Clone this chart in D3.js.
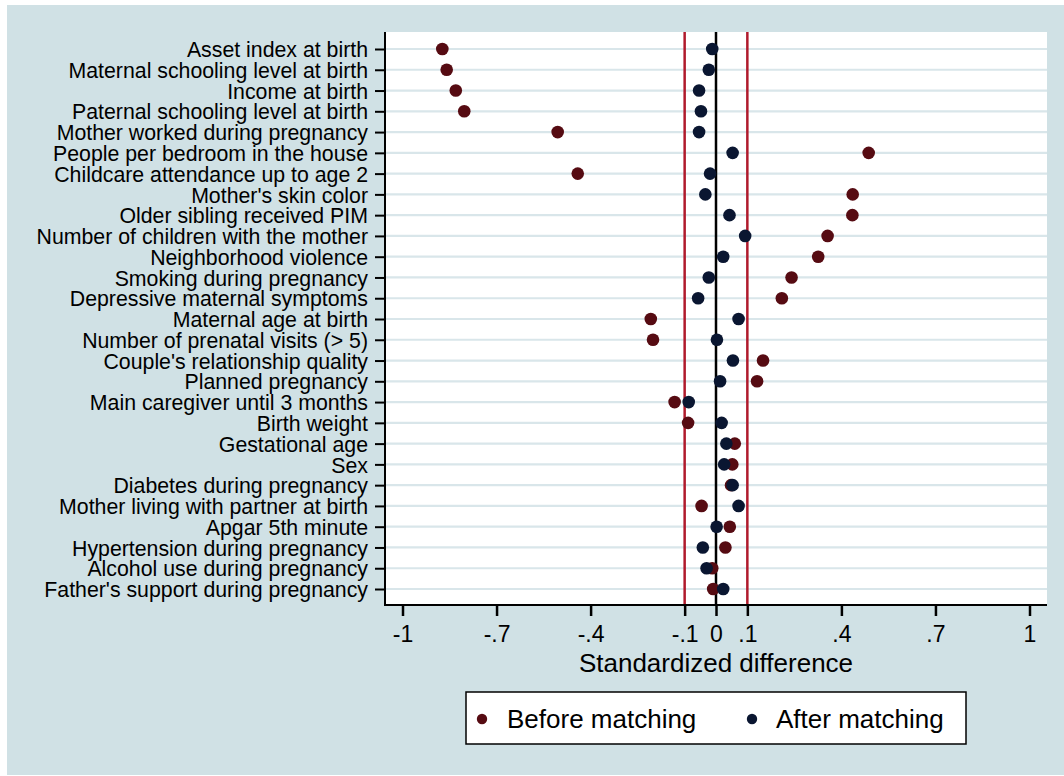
<!DOCTYPE html>
<html>
<head>
<meta charset="utf-8">
<script src="https://cdnjs.cloudflare.com/ajax/libs/d3/7.8.5/d3.min.js"></script>
<style>
  body { margin: 0; background: #fff; }
  svg text { font-family: "Liberation Sans", Arial, sans-serif; fill: #000; }
</style>
</head>
<body>
<div id="chart"></div>
<script>
var variables = [
  "Asset index at birth",
  "Maternal schooling level at birth",
  "Income at birth",
  "Paternal schooling level at birth",
  "Mother worked during pregnancy",
  "People per bedroom in the house",
  "Childcare attendance up to age 2",
  "Mother's skin color",
  "Older sibling received PIM",
  "Number of children with the mother",
  "Neighborhood violence",
  "Smoking during pregnancy",
  "Depressive maternal symptoms",
  "Maternal age at birth",
  "Number of prenatal visits (> 5)",
  "Couple's relationship quality",
  "Planned pregnancy",
  "Main caregiver until 3 months",
  "Birth weight",
  "Gestational age",
  "Sex",
  "Diabetes during pregnancy",
  "Mother living with partner at birth",
  "Apgar 5th minute",
  "Hypertension during pregnancy",
  "Alcohol use during pregnancy",
  "Father's support during pregnancy"
];

var beforeMatching = [-0.873, -0.859, -0.830, -0.803, -0.505, 0.487, -0.441, 0.436, 0.435, 0.356,
  0.326, 0.241, 0.210, -0.208, -0.201, 0.150, 0.131, -0.132, -0.089, 0.060,
  0.052, 0.048, -0.046, 0.044, 0.030, -0.012, -0.009];

var afterMatching = [-0.012, -0.023, -0.054, -0.048, -0.054, 0.053, -0.019, -0.034, 0.043, 0.093,
  0.023, -0.023, -0.057, 0.072, 0.003, 0.054, 0.013, -0.087, 0.018, 0.033,
  0.026, 0.053, 0.072, 0.002, -0.042, -0.030, 0.023];

var xTicks = [-1, -0.7, -0.4, -0.1, 0, 0.1, 0.4, 0.7, 1];
var thresholds = [-0.1, 0.1];

var W = 1064, H = 776;
var colBefore = "#560b12", colAfter = "#0a1631";

var svg = d3.select("#chart").append("svg")
  .attr("width", W).attr("height", H);

// outer background
svg.append("rect").attr("x", 7).attr("y", 5).attr("width", W - 7).attr("height", 770)
  .attr("fill", "#d0e1e5");

var plot = {left: 385, right: 1047, top: 32, bottom: 605};

svg.append("rect").attr("x", plot.left).attr("y", plot.top)
  .attr("width", plot.right - plot.left).attr("height", plot.bottom - plot.top)
  .attr("fill", "#fff");

var x = d3.scaleLinear().domain([-1, 1]).range([402.5, 1029.5]);
var y = d3.scalePoint().domain(variables).range([49, 589]);

// gridlines
svg.append("g").selectAll("line").data(variables).enter().append("line")
  .attr("x1", plot.left).attr("x2", plot.right)
  .attr("y1", function(d){ return y(d); }).attr("y2", function(d){ return y(d); })
  .attr("stroke", "#d9e6ea").attr("stroke-width", 2.2);

// threshold lines
svg.append("g").selectAll("line").data(thresholds).enter().append("line")
  .attr("x1", function(d){ return x(d); }).attr("x2", function(d){ return x(d); })
  .attr("y1", plot.top).attr("y2", plot.bottom)
  .attr("stroke", "#b01a2c").attr("stroke-width", 2.5);

// zero line
svg.append("line").attr("x1", x(0)).attr("x2", x(0))
  .attr("y1", plot.top).attr("y2", plot.bottom)
  .attr("stroke", "#000").attr("stroke-width", 2.5);

// y axis
var yAxis = d3.axisLeft(y).tickSize(10).tickPadding(7);
var gy = svg.append("g").attr("transform", "translate(" + plot.left + ",0)").call(yAxis);
gy.select(".domain").remove();
gy.selectAll(".tick line").attr("stroke", "#000").attr("stroke-width", 2);
gy.selectAll(".tick text").attr("font-size", 21.3).attr("dy", "0.36em");
svg.append("line").attr("x1", plot.left).attr("x2", plot.left)
  .attr("y1", plot.top).attr("y2", plot.bottom + 1)
  .attr("stroke", "#000").attr("stroke-width", 2);

// x axis, Stata style labels: -.7, .4
var xAxis = d3.axisBottom(x).tickValues(xTicks).tickSize(11).tickPadding(10)
  .tickFormat(function(d){ return String(d).replace("0.", "."); });
var gx = svg.append("g").attr("transform", "translate(0," + plot.bottom + ")").call(xAxis);
gx.select(".domain").remove();
gx.selectAll(".tick line").attr("stroke", "#000").attr("stroke-width", 2.5);
gx.selectAll(".tick text").attr("font-size", 23);
svg.append("line").attr("x1", plot.left - 1).attr("x2", plot.right)
  .attr("y1", plot.bottom).attr("y2", plot.bottom)
  .attr("stroke", "#000").attr("stroke-width", 2);

svg.append("text").attr("x", x(0)).attr("y", 672).attr("text-anchor", "middle")
  .attr("font-size", 26).text("Standardized difference");

// dots
svg.append("g").selectAll("circle").data(beforeMatching).enter().append("circle")
  .attr("cx", function(d){ return x(d); })
  .attr("cy", function(d, i){ return y(variables[i]); })
  .attr("r", 6.3).attr("fill", colBefore);

svg.append("g").selectAll("circle").data(afterMatching).enter().append("circle")
  .attr("cx", function(d){ return x(d); })
  .attr("cy", function(d, i){ return y(variables[i]); })
  .attr("r", 6.3).attr("fill", colAfter);

// legend
var legend = svg.append("g");
legend.append("rect").attr("x", 466).attr("y", 692).attr("width", 500).attr("height", 52)
  .attr("fill", "#fff").attr("stroke", "#000").attr("stroke-width", 1.5);
var items = [
  {label: "Before matching", color: colBefore, cx: 482, tx: 507},
  {label: "After matching", color: colAfter, cx: 752, tx: 776}
];
legend.selectAll("circle").data(items).enter().append("circle")
  .attr("cx", function(d){ return d.cx; }).attr("cy", 719)
  .attr("r", 5.2).attr("fill", function(d){ return d.color; });
legend.selectAll("text").data(items).enter().append("text")
  .attr("x", function(d){ return d.tx; }).attr("y", 728)
  .attr("font-size", 26).text(function(d){ return d.label; });
</script>
</body>
</html>
